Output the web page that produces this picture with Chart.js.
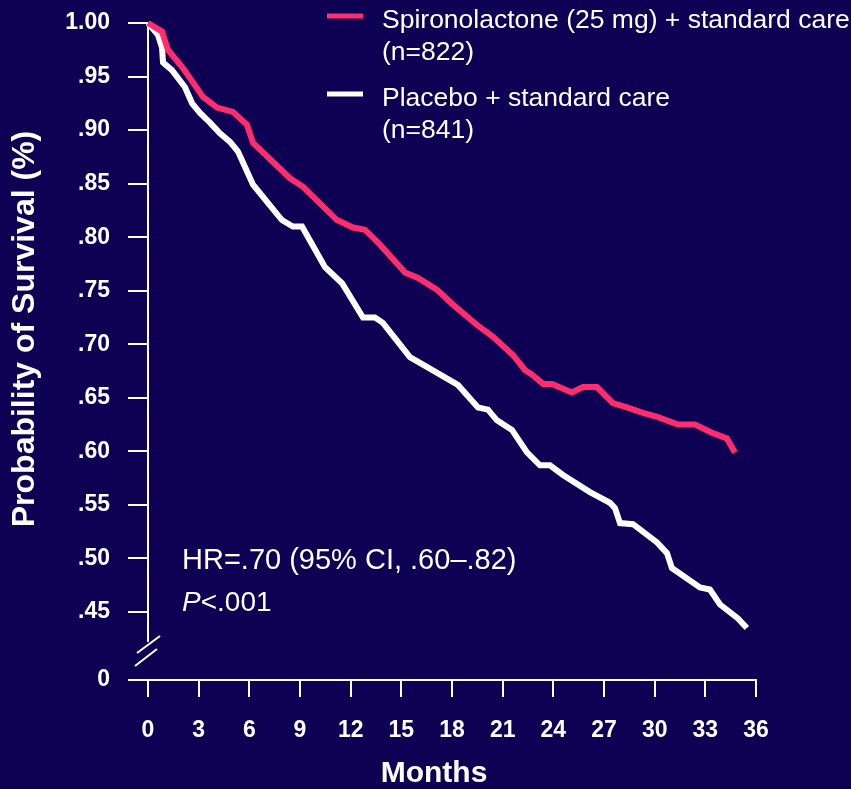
<!DOCTYPE html>
<html>
<head>
<meta charset="utf-8">
<title>Survival – Spironolactone vs Placebo</title>
<script src="https://cdn.jsdelivr.net/npm/chart.js@4.4.1/dist/chart.umd.min.js"></script>
<style>
  html, body { margin: 0; padding: 0; background: #0e0052; }
  #wrap { position: relative; width: 851px; height: 789px; }
</style>
</head>
<body>
<div id="wrap"><canvas id="survival"></canvas></div>
<script>
// Kaplan-Meier steps (months, probability of survival)
const spiroMonths = [0, 0.83, 1.18, 2.07, 3.26, 4.09, 5.03, 5.86, 6.22, 8.41, 9.18, 11.19, 12.14, 12.85, 13.74,
  15.22, 15.99, 17.11, 18.06, 19.48, 20.43, 21.61, 22.32, 22.79, 23.39, 23.92, 25.10, 25.75, 26.58, 27.53,
  28.36, 29.31, 30.20, 31.38, 32.39, 33.45, 34.28, 34.75];
const spiroSurv = [1.000, 0.992, 0.975, 0.958, 0.931, 0.921, 0.917, 0.905, 0.888, 0.855, 0.847, 0.816, 0.809, 0.807, 0.793,
  0.767, 0.762, 0.751, 0.737, 0.718, 0.707, 0.690, 0.676, 0.671, 0.663, 0.663, 0.655, 0.660, 0.660, 0.645,
  0.641, 0.636, 0.632, 0.625, 0.625, 0.617, 0.612, 0.599];

const placeboMonths = [0, 0.59, 0.83, 0.89, 1.42, 2.19, 2.61, 3.08, 3.67, 4.26, 4.86, 5.33, 6.22, 7.05, 7.93,
  8.58, 9.12, 10.48, 11.49, 12.73, 13.44, 13.91, 15.51, 16.28, 18.35, 19.54, 20.13, 20.66, 21.55, 22.44,
  23.21, 23.80, 24.57, 26.17, 27.35, 27.65, 27.95, 28.72, 30.14, 30.73, 31.02, 32.68, 33.27, 33.87, 34.93, 35.46];
const placeboSurv = [1.000, 0.989, 0.977, 0.963, 0.956, 0.940, 0.925, 0.916, 0.907, 0.897, 0.889, 0.880, 0.849, 0.833, 0.816,
  0.810, 0.810, 0.772, 0.757, 0.725, 0.725, 0.720, 0.688, 0.681, 0.662, 0.641, 0.639, 0.629, 0.620, 0.599,
  0.587, 0.587, 0.578, 0.562, 0.552, 0.547, 0.533, 0.532, 0.515, 0.505, 0.491, 0.473, 0.471, 0.457, 0.444, 0.435];

const spiroLabel = ['Spironolactone (25 mg) + standard care', '(n=822)'];
const placeboLabel = ['Placebo + standard care', '(n=841)'];

const xTicks = [0, 3, 6, 9, 12, 15, 18, 21, 24, 27, 30, 33, 36];
const yTicks = [0.45, 0.50, 0.55, 0.60, 0.65, 0.70, 0.75, 0.80, 0.85, 0.90, 0.95, 1.00];
const yAxisBase = 0.3865; // broken axis: this value sits at the origin and is labelled "0"

const hrText = 'HR=.70 (95% CI, .60\u2013.82)';
const pText = ['P', '<.001'];

const PINK = '#ff2d6e';
const WHITE = '#ffffff';
const FONT = "'Liberation Sans', Arial, Helvetica, sans-serif";

Chart.defaults.font.family = FONT;
Chart.defaults.color = WHITE;

const toPoints = (xs, ys) => xs.map((x, i) => ({ x, y: ys[i] }));

// axis line with break marks, titles, legend and the hazard ratio note
const decorations = {
  id: 'decorations',
  beforeDatasetsDraw(chart) {
    const { ctx, chartArea: { left, bottom }, scales: { y } } = chart;
    ctx.save();
    ctx.strokeStyle = WHITE;
    ctx.lineWidth = 2;
    ctx.beginPath();
    ctx.moveTo(left, y.getPixelForValue(1));
    ctx.lineTo(left, bottom - 38);
    ctx.moveTo(left - 11, bottom - 27);
    ctx.lineTo(left + 12, bottom - 44);
    ctx.moveTo(left - 13, bottom - 14);
    ctx.lineTo(left + 9, bottom - 31);
    ctx.stroke();
    ctx.restore();
  },
  afterDraw(chart) {
    const { ctx } = chart;
    ctx.save();
    ctx.fillStyle = WHITE;

    // axis titles
    ctx.font = 'bold 32px ' + FONT;
    ctx.textAlign = 'center';
    ctx.textBaseline = 'middle';
    ctx.save();
    ctx.translate(25, 329);
    ctx.rotate(-Math.PI / 2);
    ctx.fillText('Probability of Survival (%)', 0, 0);
    ctx.restore();
    ctx.font = 'bold 30px ' + FONT;
    ctx.fillText('Months', 434, 774);

    // legend
    ctx.textAlign = 'left';
    ctx.textBaseline = 'alphabetic';
    ctx.font = '26.5px ' + FONT;
    const items = [
      { color: PINK, lines: spiroLabel, top: 28 },
      { color: WHITE, lines: placeboLabel, top: 106 }
    ];
    items.forEach(item => {
      ctx.strokeStyle = item.color;
      ctx.lineWidth = 5;
      ctx.beginPath();
      ctx.moveTo(327, item.top - 12);
      ctx.lineTo(363, item.top - 12);
      ctx.stroke();
      item.lines.forEach((line, i) => ctx.fillText(line, 382, item.top + i * 32));
    });

    // hazard ratio note
    ctx.font = '29px ' + FONT;
    ctx.fillText(hrText, 182, 569);
    ctx.font = 'italic 28px ' + FONT;
    ctx.fillText(pText[0], 182, 611);
    const pw = ctx.measureText(pText[0]).width;
    ctx.font = '28px ' + FONT;
    ctx.fillText(pText[1], 182 + pw, 611);

    ctx.restore();
  }
};

new Chart(document.getElementById('survival'), {
  type: 'line',
  data: {
    datasets: [
      {
        label: spiroLabel.join(' '),
        data: toPoints(spiroMonths, spiroSurv),
        borderColor: PINK,
        borderWidth: 6,
        pointRadius: 0,
        tension: 0,
        clip: false
      },
      {
        label: placeboLabel.join(' '),
        data: toPoints(placeboMonths, placeboSurv),
        borderColor: WHITE,
        borderWidth: 6,
        pointRadius: 0,
        tension: 0,
        clip: false
      }
    ]
  },
  options: {
    responsive: true,
    maintainAspectRatio: false,
    animation: false,
    layout: { autoPadding: false, padding: { top: 23, right: 95, left: 0, bottom: 0 } },
    plugins: {
      legend: { display: false },
      tooltip: { enabled: false }
    },
    scales: {
      x: {
        type: 'linear',
        min: 0,
        max: 36,
        afterBuildTicks: scale => { scale.ticks = xTicks.map(v => ({ value: v })); },
        afterFit: scale => { scale.height = 109; scale.paddingLeft = 0; scale.paddingRight = 0; },
        grid: { drawOnChartArea: false, drawTicks: true, tickLength: 17, color: WHITE, lineWidth: 2 },
        border: { display: true, color: WHITE, width: 2 },
        ticks: { color: WHITE, padding: 20, maxRotation: 0, autoSkip: false, font: { size: 23, weight: 'bold' } }
      },
      y: {
        type: 'linear',
        min: yAxisBase,
        max: 1,
        afterBuildTicks: scale => {
          scale.ticks = [yAxisBase, ...yTicks].map(v => ({ value: v }));
        },
        afterFit: scale => { scale.width = 148; scale.paddingTop = 0; scale.paddingBottom = 0; },
        grid: { drawOnChartArea: false, drawTicks: true, tickLength: 20, color: WHITE, lineWidth: 2 },
        border: { display: false },
        ticks: {
          color: WHITE,
          padding: 18,
          autoSkip: false,
          font: { size: 23, weight: 'bold' },
          callback: v => v === yAxisBase ? '0' : (v >= 1 ? '1.00' : v.toFixed(2).replace(/^0/, ''))
        }
      }
    }
  },
  plugins: [decorations]
});
</script>
</body>
</html>
